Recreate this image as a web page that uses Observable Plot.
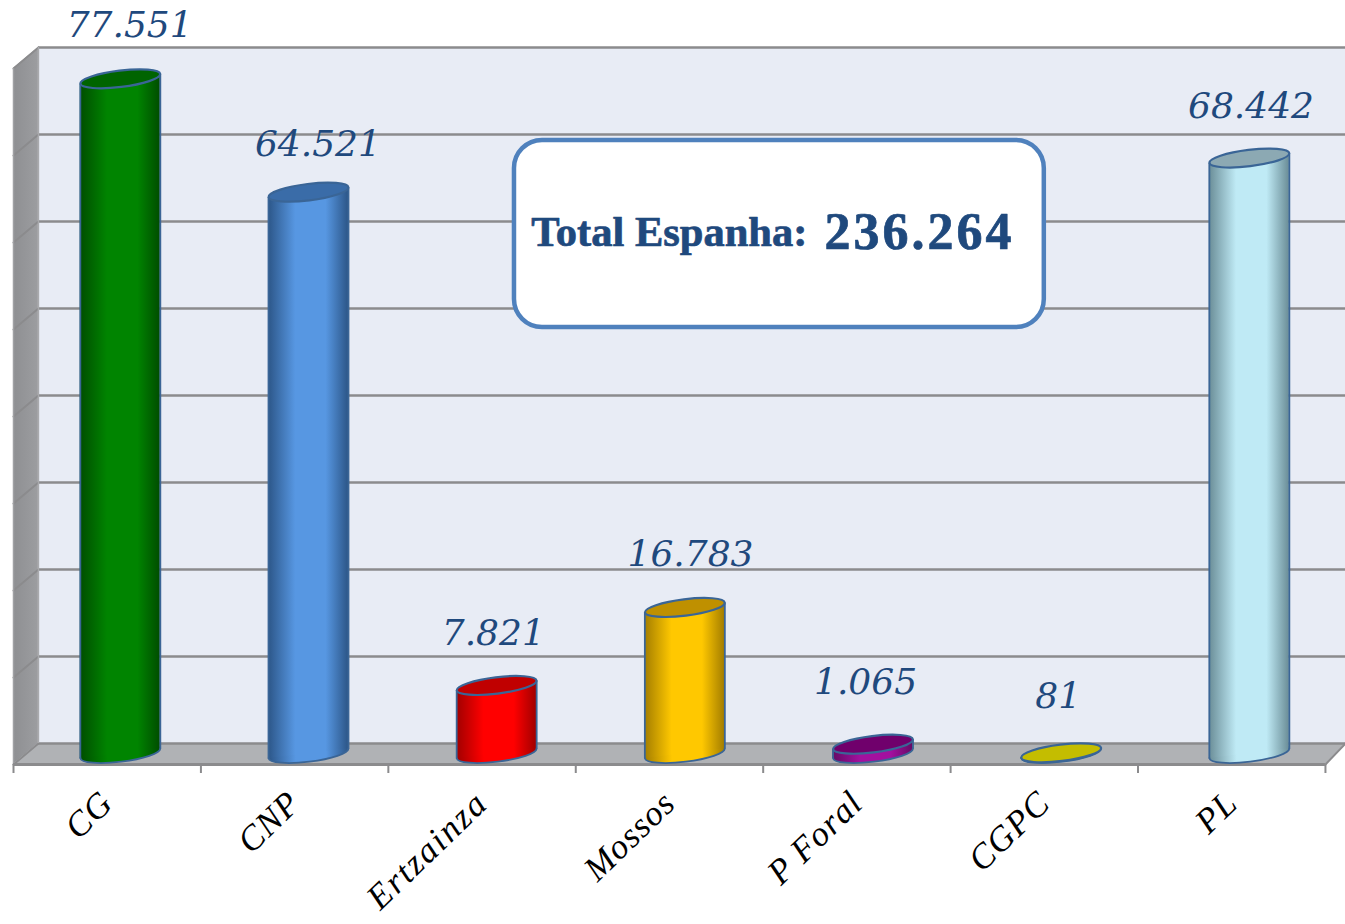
<!DOCTYPE html>
<html><head><meta charset="utf-8">
<script src="https://cdn.jsdelivr.net/npm/d3@7"></script>
<script src="https://cdn.jsdelivr.net/npm/@observablehq/plot@0.6"></script>
<style>html,body{margin:0;padding:0;background:#fff;overflow:hidden}svg{display:block}</style>
</head><body><div id="chart"></div>
<script>
const categories = ["CG","CNP","Ertzainza","Mossos","P Foral","CGPC","PL"];
const values = [77551,64521,7821,16783,1065,81,68442];
const edgeColors = ["#004d00","#2c5688","#a00000","#a37d00","#650a65","#8a8600","#6a8d97"];
const bodyColors = ["#008400","#5797e2","#ff0000","#ffc800","#a3109f","#c8c200","#bfeaf5"];
const topColors  = ["#006400","#3a6ca8","#c00000","#bf9000","#70006c","#c4bd00","#8ca9b3"];
const labelShift = [0.05,0.05,-0.018,0.03,-0.04,-0.016,0.009];
const labelRaise = [230,-345,115,230,1265,575,115];

const floorBack = 1149, floorFront = -1264;
const depthX = 0.133, xEnd = 7.107, yEnd = 86552, center = 0.57, half = 0.2134, barStep = 1.004, tiltV = 560;
const gridSteps = d3.range(9).map(k => k * 10000);
const fmt = d3.formatLocale({thousands:".",grouping:[3],decimal:",",currency:["",""]}).format(",");
const rows = categories.map((c,i) => ({c, i, v:values[i], x:i*barStep+center, grad:`url(#g${i})`, top:topColors[i]}));
const sides = rows.flatMap(d => [
  {c:d.c, grad:d.grad, x:d.x-half, y1:-tiltV, y2:d.v-tiltV},
  {c:d.c, grad:d.grad, x:d.x+half, y1:tiltV, y2:d.v+tiltV}
]);

const ellipse = {draw(ctx){
  const a=40.2,b=8.2,t=-7*Math.PI/180,k=0.5523,c=Math.cos(t),s=Math.sin(t);
  const P=(x,y)=>[x*c-y*s,x*s+y*c];
  const pts=[[a,0],[a,k*b],[k*a,b],[0,b],[-k*a,b],[-a,k*b],[-a,0],[-a,-k*b],[-k*a,-b],[0,-b],[k*a,-b],[a,-k*b],[a,0]].map(p=>P(...p));
  ctx.moveTo(...pts[0]);
  for(let i=1;i<pts.length;i+=3) ctx.bezierCurveTo(...pts[i],...pts[i+1],...pts[i+2]);
  ctx.closePath();
}};

const defs = () => {
  const d = d3.create("svg:defs");
  categories.forEach((_,i) => {
    const g = d.append("linearGradient").attr("id","g"+i).attr("x1",0).attr("x2",1).attr("y1",0).attr("y2",0);
    [[0,edgeColors[i]],[0.34,bodyColors[i]],[0.72,bodyColors[i]],[1,edgeColors[i]]].forEach(([o,col]) =>
      g.append("stop").attr("offset",o).attr("stop-color",col));
  });
  const w = d.append("linearGradient").attr("id","wall").attr("x1",0).attr("x2",1);
  w.append("stop").attr("offset",0).attr("stop-color","#8e8f92");
  w.append("stop").attr("offset",1).attr("stop-color","#9c9da0");
  return d.node();
};

const backWall = [{x:depthX,a:floorBack,b:floorBack+80000},{x:xEnd,a:floorBack,b:floorBack+80000}];
const sideWall = [{x:0,a:floorFront,b:floorFront+80000},{x:depthX,a:floorBack,b:floorBack+80000}];
const floor = [{x:0,a:floorFront,b:floorFront},{x:depthX,a:floorFront,b:floorBack},{x:7,a:floorFront,b:floorBack},{x:xEnd,a:floorBack,b:floorBack}];
const gridCol = "#8b8b8d";

const plot = Plot.plot({
  width:1345, height:924, marginLeft:13, marginRight:0, marginTop:0, marginBottom:160,
  x:{domain:[0,xEnd], axis:null},
  y:{domain:[floorFront,yEnd], axis:null},
  color:{type:"identity"},
  marks:[
    defs,
    Plot.areaY(backWall,{x:"x",y1:"a",y2:"b",fill:"#e8ecf5"}),
    Plot.areaY(sideWall,{x:"x",y1:"a",y2:"b",fill:"url(#wall)"}),
    Plot.areaY(floor,{x:"x",y1:"a",y2:"b",fill:"#b0b2b5"}),
    Plot.ruleY(gridSteps,{y:d=>floorBack+d,x1:depthX,x2:xEnd,stroke:gridCol,strokeWidth:2.4}),
    ...gridSteps.map(d=>Plot.line([{x:0,y:floorFront+d},{x:depthX,y:floorBack+d}],{x:"x",y:"y",stroke:gridCol,strokeWidth:2})),
    Plot.ruleX([depthX],{y1:floorBack,y2:floorBack+80000,stroke:"#a9aaad",strokeWidth:1.5}),
    Plot.ruleX([0],{y1:floorFront,y2:floorFront+80000,stroke:"#a0a1a4",strokeWidth:1.5}),
    Plot.ruleY([floorFront],{x1:0,x2:7,stroke:gridCol,strokeWidth:3}),
    Plot.line([{x:7,y:floorFront},{x:xEnd,y:floorBack}],{x:"x",y:"y",stroke:gridCol,strokeWidth:2}),
    Plot.axisX({ticks:d3.range(8),tickFormat:()=>"",tickSize:9,stroke:gridCol,strokeWidth:2,label:null,anchor:"bottom"}),
    // cylinders
    Plot.dot(rows,{x:"x",y:0,fill:"grad",stroke:"#3a6596",strokeWidth:1.8,symbol:ellipse}),
    Plot.areaY(sides,{x:"x",y1:"y1",y2:"y2",z:"c",fill:"grad",curve:"linear"}),
    Plot.link(sides,{x1:"x",x2:"x",y1:"y1",y2:"y2",stroke:"#3a6596",strokeWidth:1.8}),
    Plot.dot(rows,{x:"x",y:"v",fill:"top",stroke:"#3a6596",strokeWidth:2.2,symbol:ellipse}),
    // value labels
    Plot.text(rows,{x:d=>d.x+labelShift[d.i],y:d=>d.v+labelRaise[d.i],text:d=>fmt(d.v),dy:-51,fill:"#1f497d",fontFamily:"DejaVu Serif",fontStyle:"italic",fontSize:36}),
    // category labels
    Plot.axisX({ticks:d3.range(7).map(i=>i+0.5),tickFormat:d=>categories[Math.floor(d)],tickSize:0,tickPadding:33,tickRotate:-44,
      fontFamily:"Liberation Serif",fontStyle:"italic",fontSize:35,fill:"#000",label:null,anchor:"bottom"}),
    // callout
    Plot.rect([0],{x1:2.673,x2:5.5,y1:48965,y2:70460,fill:"#fff",stroke:"#4f81bd",strokeWidth:4.5,rx:28}),
    Plot.text(["Total Espanha:"],{x:2.763,y:59885,text:d=>d,textAnchor:"start",fill:"#1f497d",stroke:"#1f497d",strokeWidth:0.7,fontFamily:"Liberation Serif",fontWeight:"bold",fontSize:42.5}),
    Plot.text(["236.264"],{x:4.327,y:59950,text:d=>d,textAnchor:"start",fill:"#1f497d",stroke:"#1f497d",strokeWidth:0.7,fontFamily:"Liberation Serif",fontWeight:"bold",fontSize:52})
  ]
});
d3.select(plot).selectAll("text").filter(function(){return this.textContent==="236.264"}).style("letter-spacing","3px");
d3.select(plot).selectAll("text").filter(function(){return categories.includes(this.textContent)})
  .style("letter-spacing",function(){return this.textContent==="Ertzainza"?"2px":"1px"});
document.getElementById("chart").appendChild(plot);
</script></body></html>
